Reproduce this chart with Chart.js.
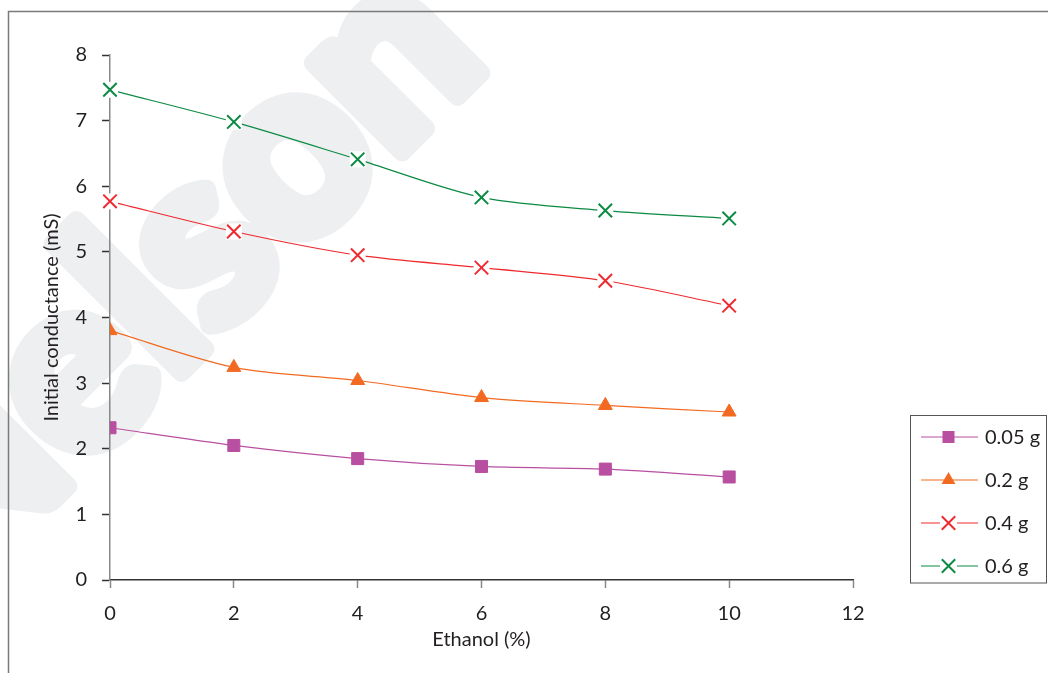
<!DOCTYPE html>
<html>
<head>
<meta charset="utf-8">
<script src="https://cdn.jsdelivr.net/npm/chart.js@4.4.1/dist/chart.umd.min.js"></script>
<style>
  html, body { margin: 0; padding: 0; background: #fff; }
  canvas { display: block; }
</style>
</head>
<body>
<canvas id="chart" width="1048" height="673"></canvas>
<script>
// data
const ethanol = [0, 2, 4, 6, 8, 10];
const g005 = [2.32, 2.05, 1.85, 1.73, 1.69, 1.57];
const g02 = [3.80, 3.24, 3.04, 2.78, 2.66, 2.56];
const g04 = [5.77, 5.31, 4.95, 4.76, 4.56, 4.18];
const g06 = [7.47, 6.98, 6.41, 5.83, 5.63, 5.51];
const seriesLabels = ["0.05 g", "0.2 g", "0.4 g", "0.6 g"];
const xTitle = "Ethanol (%)";
const yTitle = "Initial conductance (mS)";

const FONT = "Lato, 'Open Sans', sans-serif";
const TEXT = "#231f20";

function pts(ys) {
  return ethanol.map((x, i) => ({ x: x, y: ys[i] }));
}

function series(label, ys, color, style, radius, bw) {
  return {
    label: label,
    data: pts(ys),
    borderColor: color,
    backgroundColor: color,
    borderWidth: 1.2,
    tension: 0.3,
    pointStyle: style,
    pointRadius: radius,
    pointHoverRadius: radius,
    pointBorderWidth: bw,
    pointBorderColor: color,
    pointBackgroundColor: color
  };
}

const datasets = [
  series(seriesLabels[0], g005, "#b84fa0", "rect", 8.5, 1),
  series(seriesLabels[1], g02, "#f26a21", "triangle", 8, 1),
  series(seriesLabels[2], g04, "#ee2a2f", "crossRot", 9.5, 2),
  series(seriesLabels[3], g06, "#0b8a43", "crossRot", 9.5, 2)
];

// big faint publisher mark behind the plot
const watermark = {
  id: "watermark",
  beforeDraw(chart) {
    const ctx = chart.ctx;
    ctx.save();
    ctx.font = "900 245px " + FONT;
    const before = ctx.measureText("Nels").width;
    const oW = ctx.measureText("o").width;
    const xh = ctx.measureText("o").actualBoundingBoxAscent;
    ctx.translate(297, 167);
    ctx.rotate(-Math.PI / 4);
    ctx.fillStyle = "#eeeff1";
    ctx.strokeStyle = "#eeeff1";
    ctx.lineWidth = 18;
    ctx.lineJoin = "round";
    ctx.textBaseline = "alphabetic";
    ctx.textAlign = "left";
    const sx = -(before + oW / 2);
    const sy = xh / 2;
    ctx.strokeText("Nelson", sx, sy);
    ctx.fillText("Nelson", sx, sy);
    ctx.restore();
  }
};

// excel-style X markers sit on a white patch
const markerPatch = {
  id: "markerPatch",
  afterDatasetDraw(chart, args) {
    const ds = chart.data.datasets[args.index];
    if (ds.pointStyle !== "crossRot") return;
    const ctx = chart.ctx;
    const meta = args.meta;
    ctx.save();
    ctx.fillStyle = "#fff";
    meta.data.forEach(p => {
      ctx.fillRect(p.x - 8, p.y - 8, 16, 16);
    });
    ctx.restore();
    meta.data.forEach(p => p.draw(ctx, chart.chartArea));
  }
};

function marker(ctx, ds, x, y) {
  const r = ds.pointRadius;
  ctx.save();
  ctx.fillStyle = ds.pointBackgroundColor;
  ctx.strokeStyle = ds.pointBorderColor;
  ctx.lineWidth = ds.pointBorderWidth;
  ctx.beginPath();
  if (ds.pointStyle === "rect") {
    const s = r * Math.SQRT1_2;
    ctx.rect(x - s, y - s, 2 * s, 2 * s);
    ctx.fill();
  } else if (ds.pointStyle === "triangle") {
    ctx.moveTo(x, y - r);
    ctx.lineTo(x + r * Math.sin(2 * Math.PI / 3), y + r / 2);
    ctx.lineTo(x - r * Math.sin(2 * Math.PI / 3), y + r / 2);
    ctx.closePath();
    ctx.fill();
  } else {
    const d = r * Math.SQRT1_2;
    ctx.moveTo(x - d, y - d); ctx.lineTo(x + d, y + d);
    ctx.moveTo(x - d, y + d); ctx.lineTo(x + d, y - d);
    ctx.stroke();
  }
  ctx.restore();
}

const boxLegend = {
  id: "boxLegend",
  afterDraw(chart) {
    const ctx = chart.ctx;
    ctx.save();
    // outer frame of the figure
    ctx.strokeStyle = "#7a7a7a";
    ctx.lineWidth = 1.5;
    ctx.beginPath();
    ctx.moveTo(8.5, 700);
    ctx.lineTo(8.5, 11.5);
    ctx.lineTo(1060, 11.5);
    ctx.stroke();

    // legend box
    ctx.strokeStyle = "#555";
    ctx.lineWidth = 1;
    ctx.strokeRect(910.5, 415.5, 136, 167.5);
    ctx.font = "20px " + FONT;
    ctx.fillStyle = TEXT;
    ctx.textBaseline = "middle";
    chart.data.datasets.forEach((ds, i) => {
      const y = 437 + i * 43;
      ctx.strokeStyle = ds.borderColor;
      ctx.lineWidth = 1.2;
      ctx.beginPath();
      ctx.moveTo(921, y);
      ctx.lineTo(978, y);
      ctx.stroke();
      if (ds.pointStyle === "crossRot") {
        ctx.fillStyle = "#fff";
        ctx.fillRect(940, y - 8, 17, 16);
      }
      marker(ctx, ds, 948.5, y);
      ctx.fillStyle = TEXT;
      ctx.fillText(ds.label, 985, y + 1);
    });
    ctx.restore();
  }
};

new Chart(document.getElementById("chart"), {
  type: "line",
  data: { datasets: datasets },
  plugins: [watermark, markerPatch, boxLegend],
  options: {
    responsive: false,
    animation: false,
    events: [],
    layout: { padding: { top: 55, right: 195, bottom: 0, left: 0 } },
    plugins: {
      legend: { display: false },
      tooltip: { enabled: false }
    },
    scales: {
      x: {
        type: "linear",
        min: 0,
        max: 12,
        afterFit(s) { s.height = 93; },
        ticks: { stepSize: 2, padding: 14, color: TEXT, font: { family: FONT, size: 20 } },
        grid: { drawOnChartArea: false, drawTicks: true, tickLength: 8, tickColor: "#888", tickWidth: 1.5 },
        border: { color: "#333", width: 1.5 },
        title: { display: true, text: xTitle, color: TEXT, font: { family: FONT, size: 20 }, padding: { top: 0, bottom: 21 } }
      },
      y: {
        min: 0,
        max: 8,
        afterFit(s) { s.width = 110; },
        ticks: { stepSize: 1, padding: 15, color: TEXT, font: { family: FONT, size: 20 } },
        grid: { drawOnChartArea: false, drawTicks: true, tickLength: 8, tickColor: "#333", tickWidth: 1.5 },
        border: { color: "#888", width: 1.5 },
        title: { display: true, text: yTitle, color: TEXT, font: { family: FONT, size: 20 }, padding: { top: 40, bottom: 0 } }
      }
    }
  }
});
</script>
</body>
</html>
